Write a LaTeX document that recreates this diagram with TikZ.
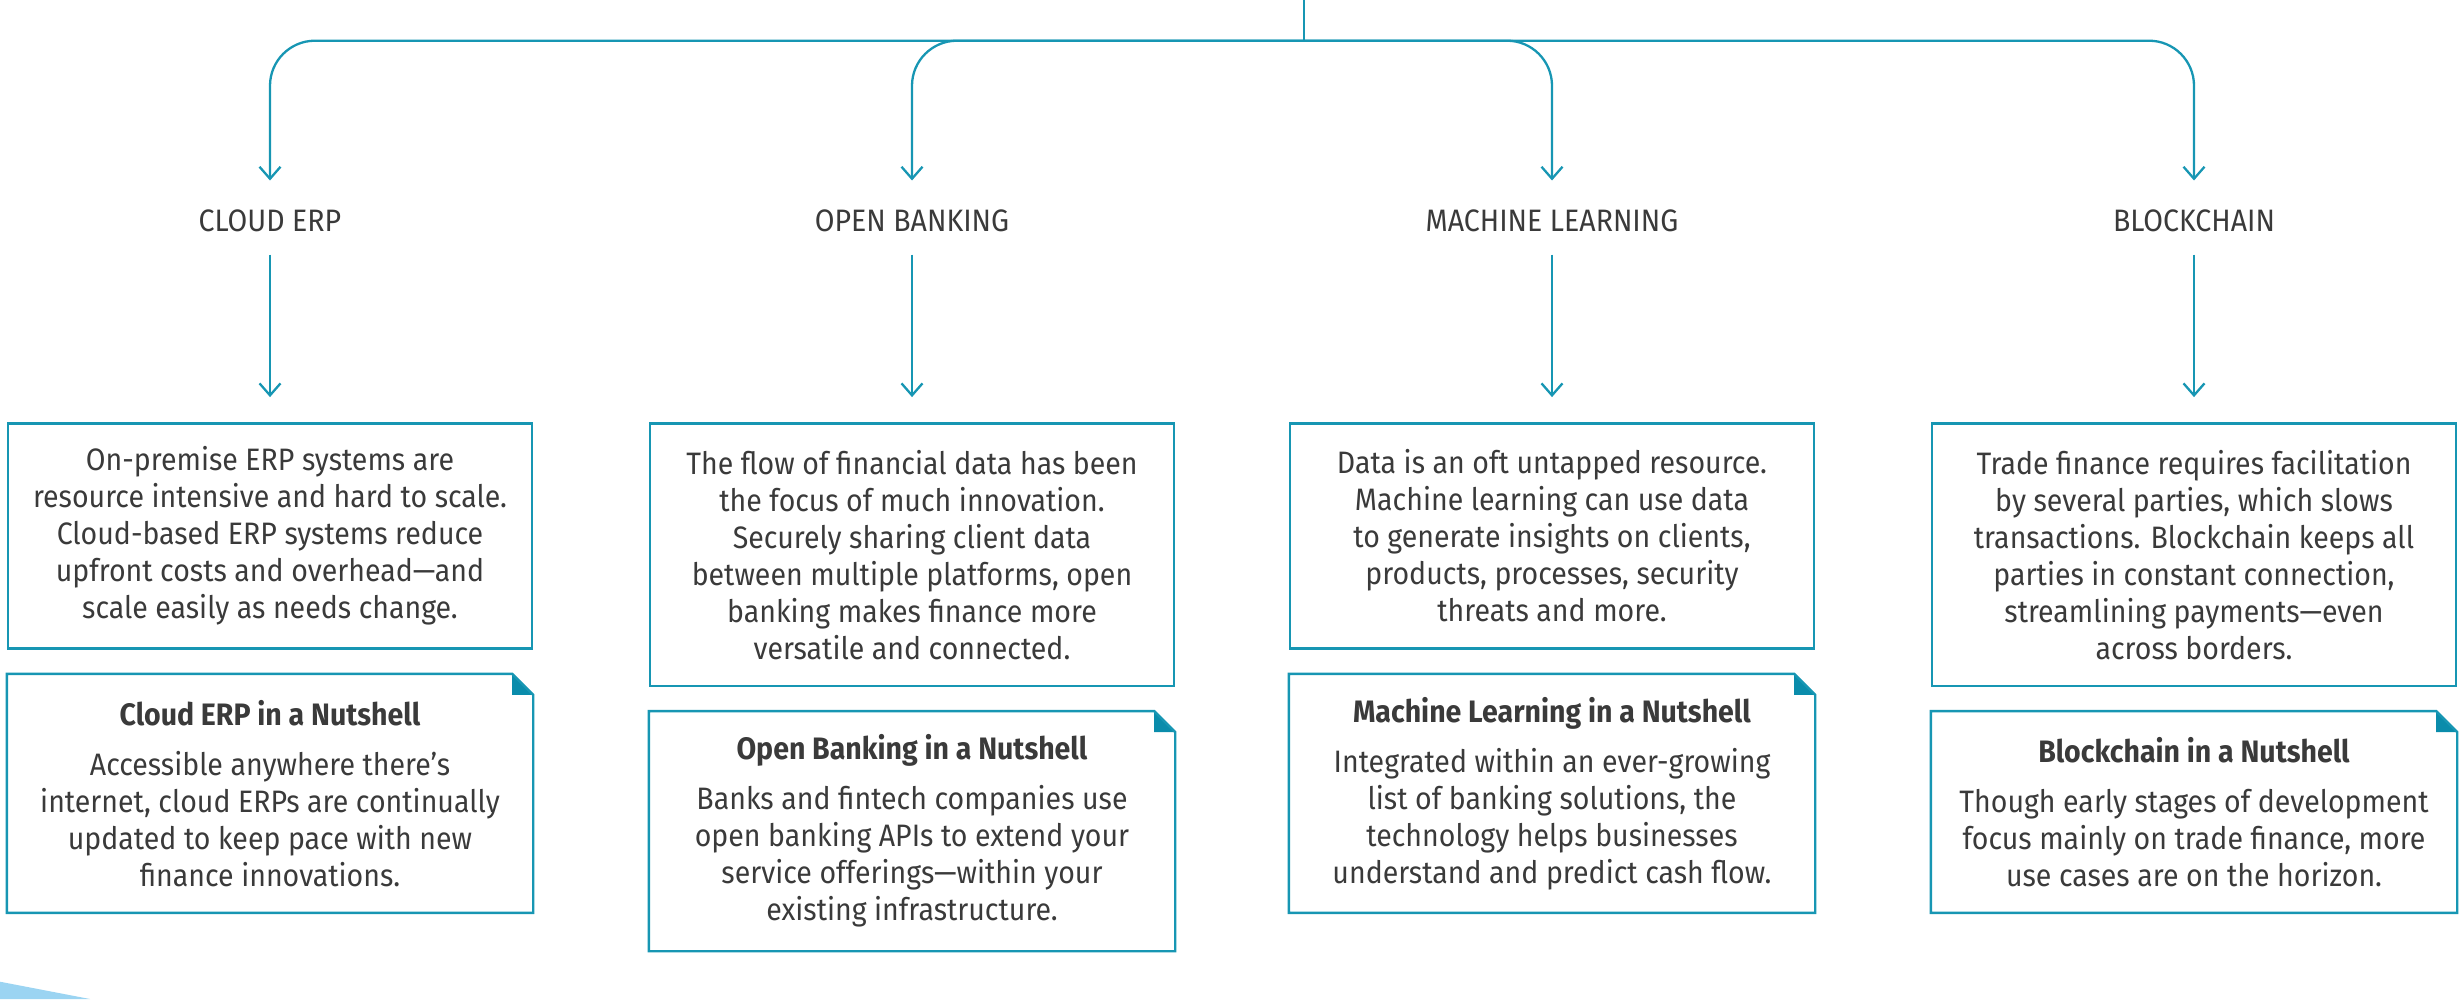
\documentclass[tikz,border=0pt]{standalone}
\usepackage{fontspec}
\setmainfont{Fira Sans}[FakeStretch=0.92]
\usetikzlibrary{arrows.meta,calc}
\definecolor{lineteal}{HTML}{1796B3}
\definecolor{foldteal}{HTML}{0A8CAB}
\definecolor{txtgray}{HTML}{3A3A3A}
\definecolor{lightblue}{HTML}{9BD4F2}
\begin{document}
\begin{tikzpicture}[x=1pt,y=-1pt,
  conn/.style={draw=lineteal, line width=2.3pt},
  arr/.style={conn, -{Straight Barb[length=12pt,width=21pt]}},
  lab/.style={inner sep=0pt, minimum height=73.6pt, text=txtgray,
    font=\fontsize{31}{37}\selectfont, text height=22pt, text depth=0pt},
  box/.style={draw=lineteal, line width=2.4pt, minimum width=524pt,
    inner sep=0pt, align=center, text=txtgray, font=\fontsize{31}{37}\selectfont},
  nut/.style={box, draw=none},
  fold/.style={draw=lineteal, line width=2.4pt},
  foldfill/.style={fill=foldteal, draw=none}]
\useasboundingbox (0,0) rectangle (2461,999);

% light blue corner shape
\fill[lightblue] (0,981.7) -- (90,999) -- (0,999) -- cycle;

% root and junction
\coordinate (top) at (1304,0);
\coordinate (junction) at (1304,40.7);
\draw[conn] (top) -- (junction);

% labels
\node[lab] (l1) at (270,220.8) {CLOUD ERP};
\node[lab] (l2) at (912,220.8) {OPEN BANKING};
\node[lab] (l3) at (1552,220.8) {MACHINE LEARNING};
\node[lab] (l4) at (2194,220.8) {BLOCKCHAIN};

% branches
\foreach \n in {1,2,3,4}{
  \draw[arr, rounded corners=45pt, shorten >=3.3pt] (junction) -| (l\n.north);
}

% description boxes
\node[box, minimum height=225pt] (b1) at (270,535.8)
  {On-premise ERP systems are\\ resource intensive and hard to scale.\\ Cloud-based ERP systems reduce\\ upfront costs and overhead—and\\ scale easily as needs change.};
\node[box, minimum height=262.7pt] (b2) at (912,554.65)
  {The flow of financial data has been\\ the focus of much innovation.\\ Securely sharing client data\\ between multiple platforms, open\\ banking makes finance more\\ versatile and connected.};
\node[box, minimum height=225pt] (b3) at (1552,535.8)
  {Data is an oft untapped resource.\\ Machine learning can use data\\ to generate insights on clients,\\ products, processes, security\\ threats and more.};
\node[box, minimum height=262.7pt] (b4) at (2194,554.65)
  {Trade finance requires facilitation\\ by several parties, which slows\\ transactions. Blockchain keeps all\\ parties in constant connection,\\ streamlining payments—even\\ across borders.};

\foreach \n in {1,2,3,4}{
  \draw[arr, shorten <=-3.3pt, shorten >=25pt] (l\n.south) -- (b\n.north);
}

% nutshell boxes
\node[nut, minimum height=236.7pt] (n1) at (270,793.35)
  {\textbf{Cloud ERP in a Nutshell}\\[13pt] Accessible anywhere there’s\\ internet, cloud ERPs are continually\\ updated to keep pace with new\\ finance innovations.};
\node[nut, minimum height=237.7pt] (n2) at (912,831.15)
  {\textbf{Open Banking in a Nutshell}\\[13pt] Banks and fintech companies use\\ open banking APIs to extend your\\ service offerings—within your\\ existing infrastructure.};
\node[nut, minimum height=236.7pt] (n3) at (1552,793.35)
  {\textbf{Machine Learning in a Nutshell}\\[13pt] Integrated within an ever-growing\\ list of banking solutions, the\\ technology helps businesses\\ understand and predict cash flow.};
\node[nut, minimum height=199.4pt] (n4) at (2194,812)
  {\textbf{Blockchain in a Nutshell}\\[13pt] Though early stages of development\\ focus mainly on trade finance, more\\ use cases are on the horizon.};

\foreach \n in {1,2,3,4}{
  \fill[foldfill] ($(n\n.north east)+(-21,0)$) -- ($(n\n.north east)+(-21,21)$) -- ($(n\n.north east)+(0,21)$) -- cycle;
  \draw[fold, line join=miter] (n\n.north west) -- ($(n\n.north east)+(-21,0)$) -- ($(n\n.north east)+(0,21)$) -- (n\n.south east) -- (n\n.south west) -- cycle;
}
\end{tikzpicture}
\end{document}
